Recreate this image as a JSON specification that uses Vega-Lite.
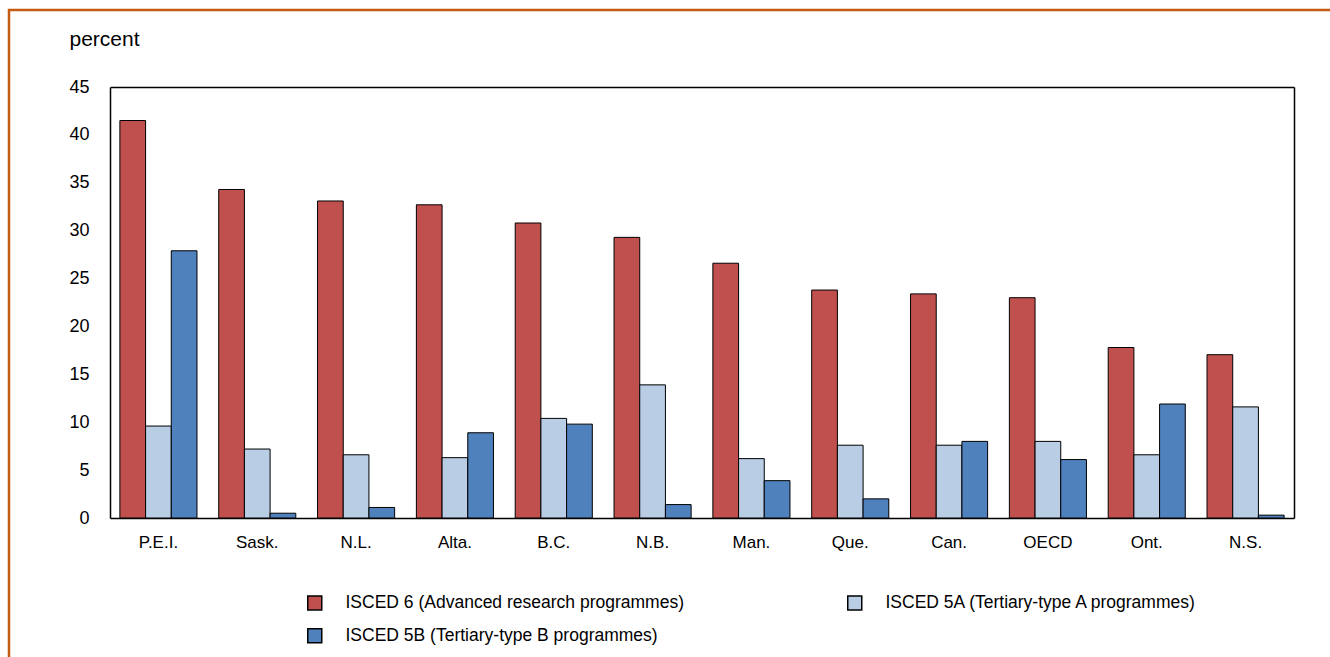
{
  "$schema": "https://vega.github.io/schema/vega-lite/v6.json",
  "autosize": {"type": "none"},
  "width": 1324,
  "height": 650,
  "padding": {"left": 9, "top": 10, "right": -3, "bottom": -3},
  "background": "white",
  "config": {
    "font": "Liberation Sans, Arial, sans-serif",
    "view": {"stroke": "#C55A11", "strokeWidth": 2.5}
  },
  "data": {
    "values": [
      {"prov": "P.E.I.", "series": "ISCED 6 (Advanced research programmes)", "v": 41.5},
      {"prov": "P.E.I.", "series": "ISCED 5A (Tertiary-type A programmes)", "v": 9.6},
      {"prov": "P.E.I.", "series": "ISCED 5B (Tertiary-type B programmes)", "v": 27.9},
      {"prov": "Sask.", "series": "ISCED 6 (Advanced research programmes)", "v": 34.3},
      {"prov": "Sask.", "series": "ISCED 5A (Tertiary-type A programmes)", "v": 7.2},
      {"prov": "Sask.", "series": "ISCED 5B (Tertiary-type B programmes)", "v": 0.5},
      {"prov": "N.L.", "series": "ISCED 6 (Advanced research programmes)", "v": 33.1},
      {"prov": "N.L.", "series": "ISCED 5A (Tertiary-type A programmes)", "v": 6.6},
      {"prov": "N.L.", "series": "ISCED 5B (Tertiary-type B programmes)", "v": 1.1},
      {"prov": "Alta.", "series": "ISCED 6 (Advanced research programmes)", "v": 32.7},
      {"prov": "Alta.", "series": "ISCED 5A (Tertiary-type A programmes)", "v": 6.3},
      {"prov": "Alta.", "series": "ISCED 5B (Tertiary-type B programmes)", "v": 8.9},
      {"prov": "B.C.", "series": "ISCED 6 (Advanced research programmes)", "v": 30.8},
      {"prov": "B.C.", "series": "ISCED 5A (Tertiary-type A programmes)", "v": 10.4},
      {"prov": "B.C.", "series": "ISCED 5B (Tertiary-type B programmes)", "v": 9.8},
      {"prov": "N.B.", "series": "ISCED 6 (Advanced research programmes)", "v": 29.3},
      {"prov": "N.B.", "series": "ISCED 5A (Tertiary-type A programmes)", "v": 13.9},
      {"prov": "N.B.", "series": "ISCED 5B (Tertiary-type B programmes)", "v": 1.4},
      {"prov": "Man.", "series": "ISCED 6 (Advanced research programmes)", "v": 26.6},
      {"prov": "Man.", "series": "ISCED 5A (Tertiary-type A programmes)", "v": 6.2},
      {"prov": "Man.", "series": "ISCED 5B (Tertiary-type B programmes)", "v": 3.9},
      {"prov": "Que.", "series": "ISCED 6 (Advanced research programmes)", "v": 23.8},
      {"prov": "Que.", "series": "ISCED 5A (Tertiary-type A programmes)", "v": 7.6},
      {"prov": "Que.", "series": "ISCED 5B (Tertiary-type B programmes)", "v": 2.0},
      {"prov": "Can.", "series": "ISCED 6 (Advanced research programmes)", "v": 23.4},
      {"prov": "Can.", "series": "ISCED 5A (Tertiary-type A programmes)", "v": 7.6},
      {"prov": "Can.", "series": "ISCED 5B (Tertiary-type B programmes)", "v": 8.0},
      {"prov": "OECD", "series": "ISCED 6 (Advanced research programmes)", "v": 23.0},
      {"prov": "OECD", "series": "ISCED 5A (Tertiary-type A programmes)", "v": 8.0},
      {"prov": "OECD", "series": "ISCED 5B (Tertiary-type B programmes)", "v": 6.1},
      {"prov": "Ont.", "series": "ISCED 6 (Advanced research programmes)", "v": 17.8},
      {"prov": "Ont.", "series": "ISCED 5A (Tertiary-type A programmes)", "v": 6.6},
      {"prov": "Ont.", "series": "ISCED 5B (Tertiary-type B programmes)", "v": 11.9},
      {"prov": "N.S.", "series": "ISCED 6 (Advanced research programmes)", "v": 17.05},
      {"prov": "N.S.", "series": "ISCED 5A (Tertiary-type A programmes)", "v": 11.6},
      {"prov": "N.S.", "series": "ISCED 5B (Tertiary-type B programmes)", "v": 0.3}
    ]
  },
  "resolve": {"axis": {"x": "independent", "y": "independent"}},
  "layer": [
    {
      "mark": {"type": "bar", "stroke": "black", "strokeWidth": 1},
      "encoding": {
        "x": {
          "field": "prov",
          "type": "nominal",
          "sort": null,
          "scale": {"paddingInner": 0.22, "paddingOuter": 0.1, "range": [101, 1285]},
          "axis": {
            "orient": "bottom",
            "offset": -142,
            "title": null,
            "labelAngle": 0,
            "labelFontSize": 17,
            "labelColor": "black",
            "labelPadding": 16,
            "ticks": false,
            "domainColor": "black",
            "domainWidth": 1.5
          }
        },
        "xOffset": {
          "field": "series",
          "type": "nominal",
          "sort": ["ISCED 6 (Advanced research programmes)", "ISCED 5A (Tertiary-type A programmes)", "ISCED 5B (Tertiary-type B programmes)"],
          "scale": {"paddingInner": 0, "paddingOuter": 0}
        },
        "y": {
          "field": "v",
          "type": "quantitative",
          "scale": {"domain": [0, 45], "nice": false, "range": [508, 77]},
          "axis": {
            "orient": "left",
            "offset": -101,
            "title": "percent",
            "titleAngle": 0,
            "titleAlign": "left",
            "titleBaseline": "alphabetic",
            "titleX": -41,
            "titleY": 35,
            "titleFontSize": 21,
            "titleFontWeight": "normal",
            "titleColor": "black",
            "values": [0, 5, 10, 15, 20, 25, 30, 35, 40, 45],
            "labelFontSize": 18,
            "labelColor": "black",
            "labelPadding": 21,
            "ticks": false,
            "grid": false,
            "domainColor": "black",
            "domainWidth": 1.5
          }
        },
        "color": {
          "field": "series",
          "type": "nominal",
          "sort": ["ISCED 6 (Advanced research programmes)", "ISCED 5A (Tertiary-type A programmes)", "ISCED 5B (Tertiary-type B programmes)"],
          "scale": {"range": ["#C0504D", "#B9CDE5", "#4F81BD"]},
          "legend": {
            "title": null,
            "orient": "none",
            "legendX": 297,
            "legendY": 584,
            "direction": "horizontal",
            "columns": 2,
            "columnPadding": 160,
            "rowPadding": 12,
            "padding": 0,
            "symbolType": "square",
            "symbolSize": 196,
            "symbolStrokeColor": "black",
            "symbolStrokeWidth": 1.5,
            "labelFontSize": 17.5,
            "labelColor": "black",
            "labelOffset": 22,
            "labelLimit": 500
          }
        }
      }
    },
    {
      "mark": {"type": "bar", "opacity": 0},
      "encoding": {
        "x": {
          "field": "prov",
          "type": "nominal",
          "sort": null,
          "axis": {
            "orient": "top",
            "offset": -77,
            "title": null,
            "labels": false,
            "ticks": false,
            "domainColor": "black",
            "domainWidth": 1.5
          }
        },
        "y": {
          "field": "v",
          "type": "quantitative",
          "axis": {
            "orient": "right",
            "offset": -39,
            "title": null,
            "labels": false,
            "ticks": false,
            "grid": false,
            "domainColor": "black",
            "domainWidth": 1.5
          }
        }
      }
    }
  ]
}
